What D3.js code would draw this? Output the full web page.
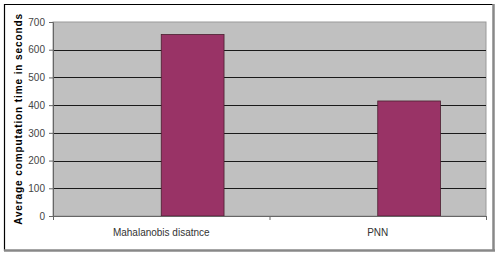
<!DOCTYPE html>
<html>
<head>
<meta charset="utf-8">
<script src="https://cdn.jsdelivr.net/npm/d3@7"></script>
<style>
  body { margin: 0; background: #fff; }
  svg { display: block; }
</style>
</head>
<body>
<div id="chart"></div>
<script>
var categories = ['Mahalanobis disatnce', 'PNN'];
var timeValues = [655, 415];
var yTicks = [0, 100, 200, 300, 400, 500, 600, 700];

var svgWidth = 498, svgHeight = 257;
var plotLeft = 53, plotRight = 486, plotTop = 22, plotBottom = 216;

var svg = d3.select('#chart')
  .append('svg')
  .attr('width', svgWidth)
  .attr('height', svgHeight);

// outer frame: dark top/left, gray bottom/right
svg.append('line').attr('x1', 4).attr('x2', 494).attr('y1', 4.5).attr('y2', 4.5)
  .attr('stroke', '#000').attr('stroke-width', 1.2);
svg.append('line').attr('x1', 4.5).attr('x2', 4.5).attr('y1', 4).attr('y2', 251)
  .attr('stroke', '#000').attr('stroke-width', 1.2);
svg.append('line').attr('x1', 4).attr('x2', 495).attr('y1', 250.5).attr('y2', 250.5)
  .attr('stroke', '#888').attr('stroke-width', 2.5);
svg.append('line').attr('x1', 493.5).attr('x2', 493.5).attr('y1', 4).attr('y2', 251)
  .attr('stroke', '#888').attr('stroke-width', 2.5);

var x = d3.scaleBand()
  .domain(categories)
  .range([plotLeft, plotRight]);

var y = d3.scaleLinear()
  .domain([0, 700])
  .range([plotBottom, plotTop]);

// plot background
svg.append('rect')
  .attr('x', plotLeft)
  .attr('y', plotTop)
  .attr('width', plotRight - plotLeft)
  .attr('height', plotBottom - plotTop)
  .attr('fill', '#c0c0c0')
  .attr('stroke', '#9a9a9a')
  .attr('stroke-width', 1);

// gridlines
svg.selectAll('.grid')
  .data(yTicks.filter(function(d){ return d > 0 && d < 700; }))
  .enter()
  .append('line')
  .attr('class', 'grid')
  .attr('x1', plotLeft)
  .attr('x2', plotRight)
  .attr('y1', function(d){ return Math.round(y(d)) + 0.5; })
  .attr('y2', function(d){ return Math.round(y(d)) + 0.5; })
  .attr('stroke', '#1a1a1a')
  .attr('stroke-width', 1);

// bars (sit to the right of each category centre)
var barWidth = x.bandwidth() * 0.29;
svg.selectAll('.bar')
  .data(timeValues)
  .enter()
  .append('rect')
  .attr('class', 'bar')
  .attr('x', function(d, i){ return x(categories[i]) + x.bandwidth() / 2; })
  .attr('y', function(d){ return y(d); })
  .attr('width', barWidth)
  .attr('height', function(d){ return plotBottom - y(d); })
  .attr('fill', '#993366')
  .attr('stroke', '#4a2030')
  .attr('stroke-width', 0.8);

// y axis
var yAxis = d3.axisLeft(y)
  .tickValues(yTicks)
  .tickSize(4)
  .tickPadding(4);
var yg = svg.append('g')
  .attr('transform', 'translate(' + plotLeft + ',0)')
  .call(yAxis);
yg.select('.domain').attr('stroke', '#666');
yg.selectAll('.tick line').attr('stroke', '#666');
yg.selectAll('text')
  .attr('font-family', 'Liberation Sans, Arial, sans-serif')
  .attr('font-size', '10px')
  .attr('fill', '#444');

// x axis
var xAxis = d3.axisBottom(x)
  .tickSize(0)
  .tickPadding(13);
var xg = svg.append('g')
  .attr('transform', 'translate(0,' + plotBottom + ')')
  .call(xAxis);
xg.select('.domain').attr('stroke', '#666');
xg.selectAll('text')
  .attr('font-family', 'Liberation Sans, Arial, sans-serif')
  .attr('font-size', '10px')
  .attr('fill', '#333');

// category boundary ticks
svg.selectAll('.xtick')
  .data(categories.concat(['end']))
  .enter()
  .append('line')
  .attr('class', 'xtick')
  .attr('x1', function(d, i){ return plotLeft + i * x.bandwidth() + 0.5; })
  .attr('x2', function(d, i){ return plotLeft + i * x.bandwidth() + 0.5; })
  .attr('y1', plotBottom)
  .attr('y2', plotBottom + 4)
  .attr('stroke', '#666');

// y label
svg.append('text')
  .attr('transform', 'translate(22,' + ((plotTop + plotBottom) / 2) + ') rotate(-90)')
  .attr('text-anchor', 'middle')
  .attr('font-family', 'Liberation Sans, Arial, sans-serif')
  .attr('font-size', '10px')
  .attr('font-weight', 'bold')
  .attr('letter-spacing', '0.9px')
  .attr('fill', '#000')
  .text('Average computation time in seconds');
</script>
</body>
</html>
